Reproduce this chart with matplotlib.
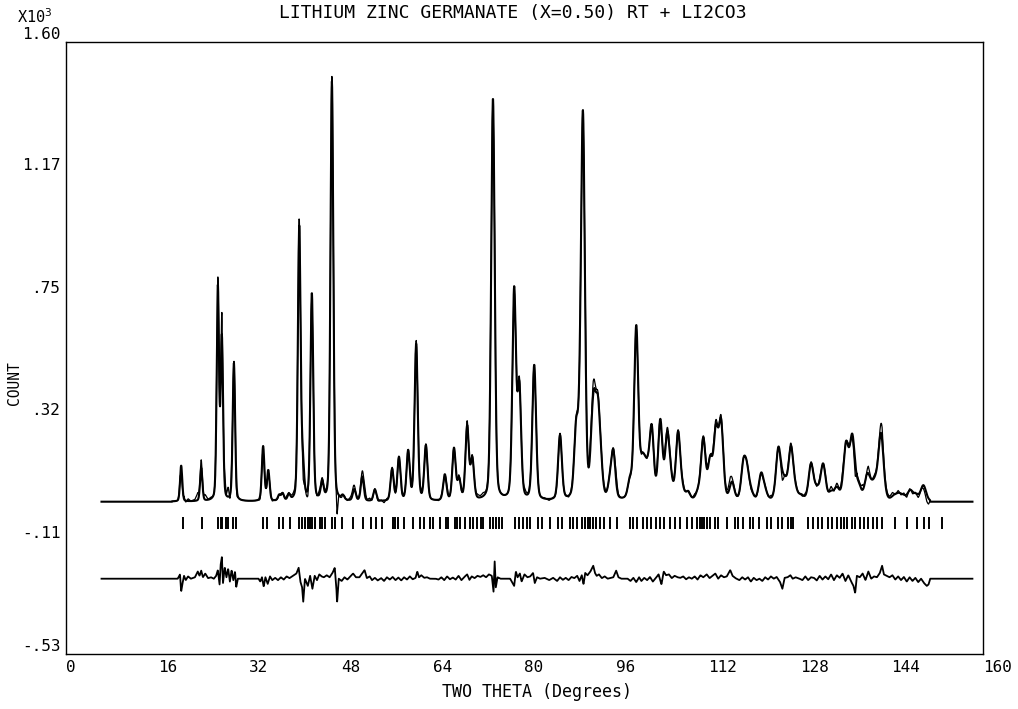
import numpy as np
import matplotlib
matplotlib.use('Agg')
import matplotlib.pyplot as plt

plt.rcParams['font.family'] = ['DejaVu Sans Mono', 'DejaVu Sans']

# peak positions (two theta) and heights (counts)
peak_pos = [20.1, 23.6, 26.5, 27.2, 29.3, 34.4, 35.3, 37.2, 37.8, 38.9,
            40.7, 41.3, 42.9, 44.7, 46.4, 48.3, 50.3, 51.7, 53.9, 56.9,
            58.1, 59.7, 61.1, 62.8, 66.1, 67.7, 68.6, 70.0, 70.9, 74.5,
            78.2, 79.1, 81.7, 86.2, 89.0, 89.6, 90.2, 91.8, 92.2, 92.8,
            93.3, 94.9, 95.5, 98.4, 99.5, 100.5, 101.0, 101.5, 102.2, 103.7,
            104.9, 105.5, 106.8, 107.5, 108.5, 110.3, 111.2, 112.4, 113.4, 114.3,
            116.2, 118.2, 118.8, 119.5, 121.3, 122.0, 124.3, 125.0, 125.5, 126.5,
            127.3, 128.3, 130.0, 131.0, 132.1, 133.5, 134.5, 136.1, 137.2, 138.3,
            139.8, 140.5, 141.2, 142.2, 144.5, 145.3, 146.1, 147.3, 148.3, 149.6]
peak_cnt = [125, 115, 740, 560, 480, 190, 105, 20, 25, 20,
            950, 120, 720, 60, 1460, 15, 40, 85, 40, 110,
            150, 170, 545, 190, 90, 180, 70, 255, 140, 1400,
            725, 380, 470, 225, 220, 120, 1320, 160, 230, 260,
            100, 50, 160, 60, 600, 100, 70, 70, 240, 270,
            210, 60, 230, 30, 25, 25, 210, 130, 230, 260,
            60, 115, 90, 25, 90, 25, 175, 35, 45, 180,
            25, 15, 125, 35, 125, 25, 40, 190, 215, 45,
            80, 30, 50, 230, 15, 20, 15, 35, 20, 55]

# difference curve (obs - calc, counts)
diff_x = [6.2, 19.0, 19.5, 19.9, 20.1, 20.3, 20.6, 20.9, 21.3, 21.8, 22.5, 23.0, 23.3, 23.6, 23.9,
          24.3, 24.8, 25.3, 25.8, 26.2, 26.5, 26.8, 27.0, 27.2, 27.4, 27.7, 28.0, 28.3, 28.6,
          28.9, 29.2, 29.5, 29.7, 30.0, 33.6, 33.9, 34.2, 34.5, 34.8, 35.2, 35.6, 36.0, 36.5,
          37.0, 37.5, 38.0, 38.5, 39.0, 39.6, 40.2, 40.6, 40.9, 41.2, 41.4, 41.7, 42.2, 42.6,
          43.0, 43.4, 43.8, 44.2, 44.6, 45.0, 45.5, 46.0, 46.5, 46.9, 47.2, 47.3, 47.6, 48.1,
          48.6, 49.1, 49.6, 50.1, 50.6, 51.2, 51.8, 52.1, 52.5, 53.0, 53.4, 53.9, 54.4, 55.0,
          55.5, 56.0, 56.5, 57.0, 57.5, 58.0, 58.5, 59.0, 59.5, 60.0, 60.5, 61.0, 61.3, 61.6,
          62.0, 62.5, 63.0, 63.5, 64.5, 65.0, 65.5, 66.0, 66.5, 67.0, 67.5, 68.0, 68.5, 69.0,
          69.5, 70.0, 70.4, 70.8, 71.3, 71.8, 72.3, 72.8, 73.3, 73.8, 74.3, 74.6, 74.8, 75.0,
          75.3, 75.8, 77.5, 78.2, 78.5, 78.8, 79.2, 79.5, 80.0, 80.5, 81.0, 81.5, 81.8, 82.2,
          82.7, 83.5, 84.3, 85.0, 85.7, 86.2, 86.7, 87.2, 87.7, 88.2, 88.7, 89.2, 89.6, 90.0,
          90.3, 90.6, 91.0, 91.5, 92.0, 92.3, 92.6, 93.0, 93.5, 94.0, 94.5, 95.5, 96.0, 96.4,
          96.9, 98.0, 98.5, 99.0, 99.5, 100.0, 100.4, 100.9, 101.4, 101.9, 102.4, 102.9, 103.4, 103.9,
          104.3, 104.7, 105.2, 105.7, 106.2, 106.7, 107.2, 107.7, 108.2, 108.7, 109.2, 109.7, 110.2, 110.7,
          111.2, 111.8, 112.3, 112.8, 113.3, 113.8, 114.3, 114.8, 115.3, 115.9, 116.3, 116.8, 117.5, 118.0,
          118.5, 119.0, 119.5, 120.0, 120.5, 121.0, 121.5, 122.0, 122.5, 123.0, 123.5, 124.0, 124.6, 125.0,
          125.4, 125.9, 126.4, 126.8, 127.3, 128.0, 128.5, 129.0, 129.5, 130.0, 130.5, 131.0, 131.5, 132.0,
          132.5, 133.0, 133.5, 134.0, 134.5, 135.0, 135.5, 136.0, 136.5, 137.0, 137.4, 137.7, 138.0, 138.5,
          139.0, 139.5, 140.0, 140.5, 141.0, 141.5, 142.0, 142.4, 142.7, 143.2, 143.7, 144.2, 144.7, 145.2,
          145.7, 146.2, 146.7, 147.2, 147.7, 148.2, 148.7, 149.2, 149.7, 150.2, 150.5, 150.8, 158.2]
diff_y = [0, 0, 0, 15, -45, -20, 10, -5, 8, 0, 5, 25, 10, 28, 5,
          18, 2, 5, 0, 10, 30, -20, 50, 75, -15, 40, 5, 35, -10,
          30, -5, 25, -30, 0, 0, -10, 5, -28, 5, -18, 8, -5, 3,
          -5, 5, -3, 8, 2, 10, 18, 38, -10, -30, -80, 0, -25, 10,
          -35, 10, -5, 15, 8, 5, 12, 5, 20, 38, -40, -85, 0, -8,
          5, -3, 8, 18, 5, 5, 22, 30, 2, 8, -5, 3, -6, 2,
          -8, 5, -3, 6, -5, 4, -6, 5, -3, 8, -2, 3, 25, 5,
          12, 3, 5, 0, 0, -3, 5, -5, 8, -2, 4, -3, 10, -5,
          6, 15, -4, 8, 2, 10, 6, 12, 5, 15, 10, -45, 60, -30,
          5, 0, 0, -25, 25, 5, 18, -10, 15, 5, 8, 20, -15, 5,
          0, 3, -5, 3, -8, 5, -4, 3, -5, 6, 2, 10, -8, 12,
          -20, 20, 12, 25, 45, 20, 10, 15, 2, 8, 0, 5, 28, 5,
          0, 0, -8, 3, -12, 5, -8, 3, -5, 6, -10, 2, 15, -20,
          25, 12, 15, 2, 10, 5, 3, 8, -2, 5, 0, 8, -3, 12,
          5, 15, 2, 10, 18, 0, 12, 5, 8, 30, 10, 2, -5, 5,
          -3, 5, -10, 3, -5, 0, -8, 5, -3, 8, 0, 6, -12, -35,
          3, 5, 12, 0, 5, 0, -5, 8, -5, 5, 3, -6, 10, -3,
          8, -2, 15, -5, 12, 3, 18, -8, 12, -10, -25, -50, 10, 5,
          18, -5, 25, 0, 8, 5, 20, 45, 15, 10, 5, 12, -3, 8,
          -5, 6, -10, 5, -8, 3, -12, 0, -15, -25, -20, 0, 0]

# reflection marker positions (two theta)
refl = [20.4, 23.7, 26.6, 27.0, 27.3, 27.9, 28.3, 29.2, 29.7, 34.4,
        35.0, 37.2, 37.8, 39.1, 40.7, 41.1, 41.7, 42.2, 42.6, 43.0,
        43.5, 44.3, 44.6, 45.2, 46.4, 46.9, 48.1, 50.1, 51.9, 53.3,
        54.1, 55.1, 57.0, 57.4, 58.0, 58.9, 60.6, 61.7, 62.4, 63.5,
        64.1, 65.3, 66.3, 66.7, 67.9, 68.3, 68.8, 69.6, 70.5, 71.0,
        71.7, 72.5, 72.8, 74.0, 74.5, 75.0, 75.5, 76.0, 78.4, 79.0,
        79.8, 80.4, 81.0, 82.4, 83.0, 84.5, 85.9, 86.5, 88.0, 88.5,
        89.1, 90.0, 90.5, 91.0, 91.5, 92.0, 92.5, 93.2, 93.8, 94.9,
        96.1, 98.4, 99.0, 99.6, 100.7, 101.3, 102.0, 103.0, 103.7, 104.3,
        105.4, 106.3, 107.1, 108.3, 109.2, 110.1, 110.6, 110.9, 111.4, 111.8,
        112.4, 113.3, 113.8, 115.3, 116.8, 117.3, 118.2, 119.4, 119.9, 121.0,
        122.3, 123.1, 124.3, 124.9, 126.0, 126.5, 126.9, 129.5, 130.4, 131.2,
        131.9, 133.0, 133.7, 134.5, 135.2, 135.8, 136.3, 137.2, 137.7, 138.6,
        139.3, 140.0, 140.8, 141.5, 142.3, 144.7, 146.7, 148.5, 149.7, 150.5,
        152.8]

xticks = [0, 16, 32, 48, 64, 80, 96, 112, 128, 144, 160]
yticks = [1.60, 1.174, 0.748, 0.322, -0.104, -0.53]
ytick_labels = ['1.60', '1.17', '.75', '.32', '-.11', '-.53']

def profile(tt):
    y = np.zeros_like(tt)
    for p, h in zip(peak_pos, peak_cnt):
        w = 0.45 + 0.005 * (p - 20)
        g = np.exp(-4 * np.log(2) * ((tt - p) / w) ** 2)
        l = 1.0 / (1 + 4 * ((tt - p) / w) ** 2)
        y += h * (0.75 * g + 0.25 * l)
    return y

tt = np.arange(6.2, 158.2, 0.04)
calc = profile(tt)
dif = np.interp(tt, diff_x, diff_y)
obs = calc + dif
calc[(tt < 18.5) | (tt > 150.8)] = 0
mask = (tt > 18.5) & (tt < 150.8)

fig = plt.figure(figsize=(10.18, 7.09), dpi=100)
ax = fig.add_axes([0.0648, 0.0776, 0.9008, 0.8632])

ax.plot(tt, calc / 1000, color='black', lw=1.5)
ax.plot(tt[mask], obs[mask] / 1000, color='black', lw=0.9)
ax.plot(tt, -0.268 + dif / 1000, color='black', lw=1.3)
ax.vlines(refl, -0.095, -0.053, color='black', lw=1.4)

ax.set_xlim(0, 160)
ax.set_ylim(-0.53, 1.60)
ax.set_xticks(xticks)
ax.set_xticklabels([str(v) for v in xticks], ha='left', fontsize=11.5)
ax.set_yticks(yticks)
ax.set_yticklabels(ytick_labels, fontsize=11.5)
ax.tick_params(length=0, pad=4)
ax.get_yticklabels()[0].set_va('bottom')
ax.get_yticklabels()[-1].set_va('bottom')
for s in ax.spines.values():
    s.set_linewidth(1.0)

ax.set_xlabel('TWO THETA (Degrees)', fontsize=12, labelpad=6, x=0.514)
ax.set_title('LITHIUM ZINC GERMANATE (X=0.50) RT + LI2CO3', fontsize=13, pad=17, x=0.487)
fig.text(14 / 1018, 1 - 383 / 709, 'COUNT', fontsize=10.5, rotation=90,
         va='center', ha='center')
fig.text(17 / 1018, 1 - 17 / 709, r'X10$^3$', fontsize=11, va='center', ha='left')

fig.savefig('out.png', dpi=100)
